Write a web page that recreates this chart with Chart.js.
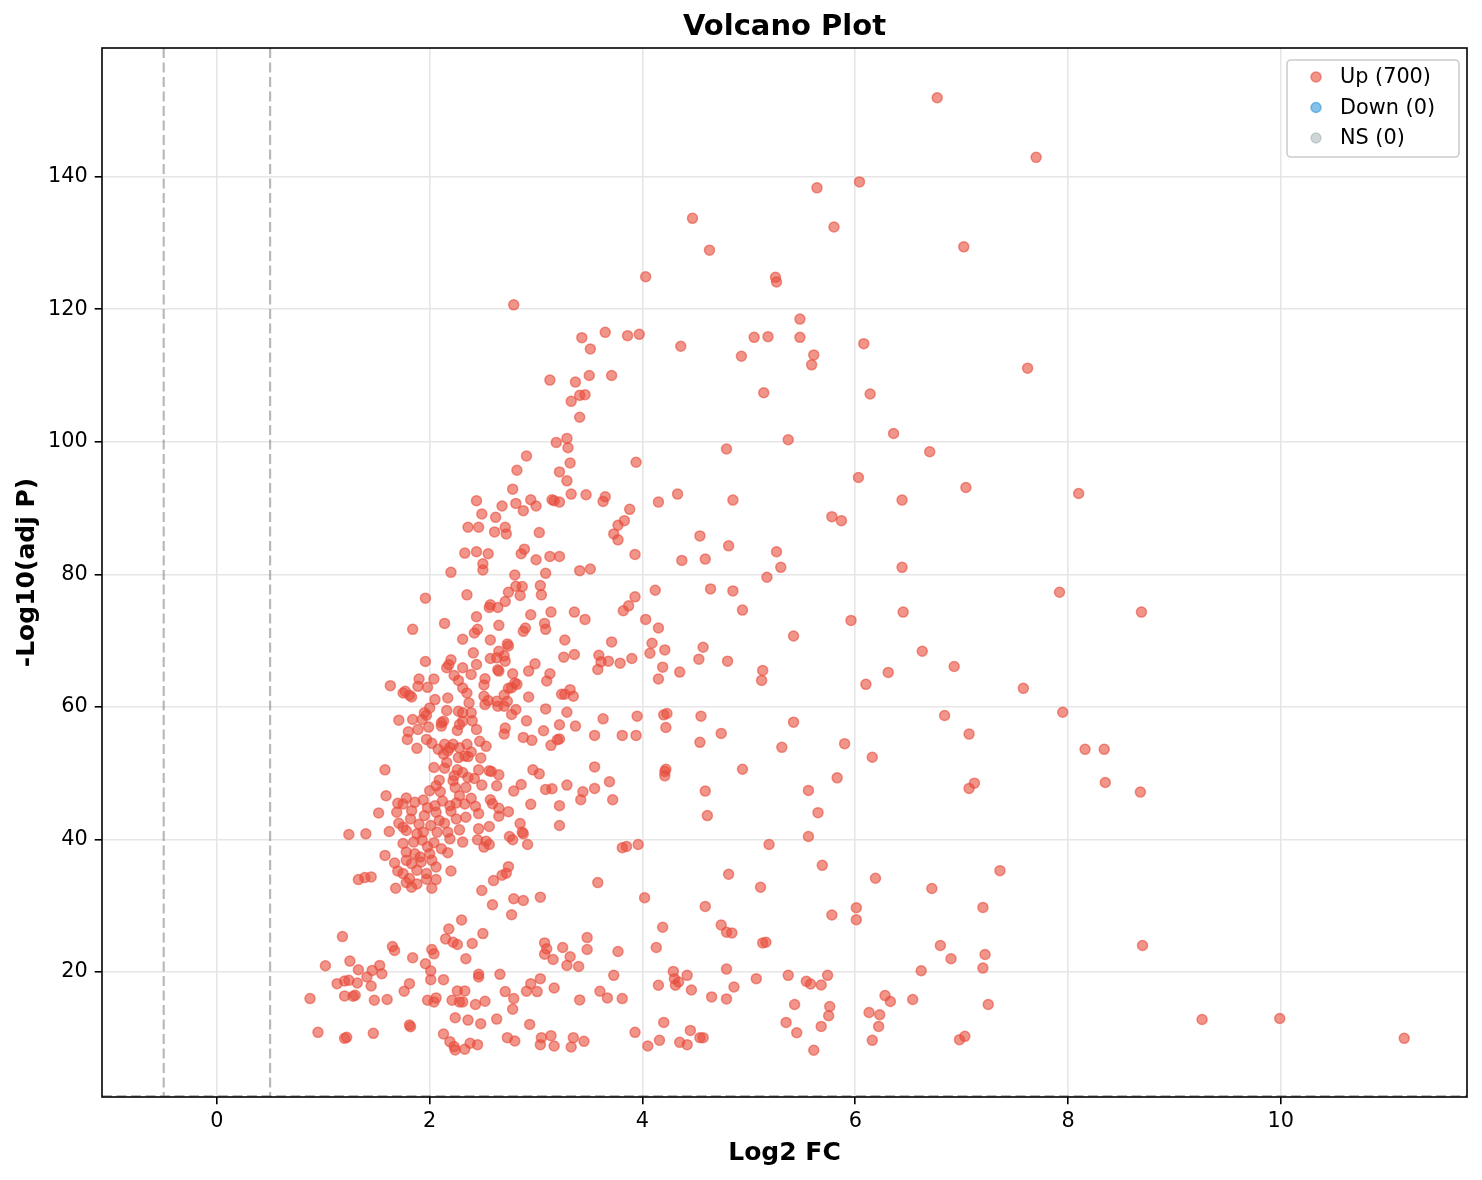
<!DOCTYPE html>
<html>
<head>
<meta charset="utf-8">
<title>Volcano Plot</title>
<script src="https://cdn.jsdelivr.net/npm/chart.js@4.4.1/dist/chart.umd.min.js"></script>
<style>
  html, body { margin: 0; padding: 0; background: #fff; }
  #wrap { width: 1482px; height: 1180px; }
</style>
</head>
<body>
<div id="wrap"><canvas id="volcano" width="1482" height="1180"></canvas></div>
<script>
// DATA (one line of x values matches one line of y values)
const upLog2FC = [
  2.36, 2.33, 2.20, 2.35, 1.96, 2.14, 1.84, 2.31,
  2.20, 1.96, 2.16, 2.31, 2.18, 2.23, 1.63, 1.75, 1.77, 1.81, 1.83, 1.90, 1.89, 1.98, 2.04, 2.27, 2.31, 2.35, 2.05, 2.17,
  2.00, 1.95, 1.97, 2.16, 2.27, 2.31, 1.71, 1.84, 1.93, 2.11, 2.13, 2.31, 2.28, 1.89, 1.99, 2.11, 2.26, 1.80, 1.79, 1.97,
  2.02, 1.88, 2.08, 2.14, 2.19, 2.22, 2.28, 2.35, 2.13, 2.17, 2.27, 2.33, 2.16, 2.04, 2.14, 1.58, 2.26, 2.31, 2.23, 2.09,
  2.22, 2.36, 2.06, 2.00, 2.24, 2.34, 1.59, 1.78, 1.70, 1.75, 1.86, 1.94, 2.05, 2.19, 2.28, 2.33, 1.52, 1.69, 1.83, 1.95,
  2.06, 2.09, 2.20, 2.25, 2.34, 1.71, 1.75, 2.01, 2.14, 1.88, 1.94, 2.07, 2.17, 2.28, 1.24, 1.40, 1.62, 1.78, 2.19, 2.31,
  1.75, 1.58, 1.78, 1.86, 1.91, 2.00, 2.11, 2.17, 1.67, 1.78, 1.83, 1.92, 2.02, 2.06, 2.20, 1.70, 1.75, 1.88, 1.97, 1.33,
  1.39, 1.45, 1.81, 2.06,
  1.85, 1.93, 1.98, 2.04, 1.90, 1.82, 2.12, 2.25, 2.10, 1.98, 2.40, 2.37,
  1.68, 1.83, 1.88, 1.97, 2.02, 1.78,
  2.30, 2.18, 2.15, 2.22, 2.26, 1.18, 1.65, 1.67, 2.02, 2.04, 2.34, 1.84, 1.25, 1.02, 1.33, 1.46, 1.53, 1.55, 1.41, 1.96,
  2.01, 2.01, 2.13, 1.13, 1.20, 1.24, 1.32, 1.45, 1.81, 1.76, 1.20, 1.28, 1.30, 0.875, 1.48, 1.60, 1.98, 2.04, 2.06, 2.21,
  2.28, 2.33, 2.26, 2.31, 2.24, 2.36, 1.81, 1.82, 0.95, 1.20, 1.22, 1.47, 2.13, 2.19, 2.23, 2.24, 2.33, 2.38,
  4.03, 2.79, 3.43, 3.65, 3.86, 3.97, 3.51, 4.36, 3.13, 3.37, 3.50, 3.71, 3.41, 3.46, 3.33, 3.41, 3.19, 3.29, 3.30, 2.91,
  3.32, 3.94, 2.82, 3.22, 3.29, 2.78, 2.44, 2.49, 2.68, 2.81, 2.95, 3.00, 2.88, 2.62, 3.15, 3.17, 3.22, 3.33, 3.47, 3.65,
  3.63, 4.15, 4.33, 3.88, 3.83, 3.77, 3.73, 3.77, 2.46, 2.61, 2.71, 2.72, 3.03, 4.54,
  2.44, 2.55, 2.86, 2.89, 3.00, 3.13, 3.22, 3.93, 4.37, 4.59, 2.50, 2.50, 3.41, 3.51, 2.80, 3.09, 2.74, 2.81, 2.87, 2.85,
  3.04, 3.05, 4.12, 2.71, 2.57, 2.56, 2.64, 3.93, 3.87, 3.82, 3.14, 3.36, 3.46, 2.95, 2.44, 4.03, 4.15, 3.08, 3.09, 2.65,
  2.90, 2.88, 2.45, 2.42, 2.57, 3.27, 3.71, 4.09, 2.73, 2.74, 2.65, 2.41, 4.21, 4.07, 4.57, 3.26, 3.36, 3.59, 2.57, 2.63,
  2.70, 2.71, 3.61, 3.68, 3.79, 3.90, 4.53, 2.44, 4.19, 2.99, 2.93, 2.64, 2.65, 3.58, 4.35, 4.15, 2.39, 2.78, 3.13, 3.10,
  2.52, 2.51, 2.80, 2.77, 2.74, 2.82, 3.32, 3.24, 3.27, 3.35, 2.51, 2.70, 2.93, 2.52, 2.55, 2.63, 2.64, 2.70, 2.73, 2.81,
  3.09, 2.39, 2.77, 3.29, 3.63, 3.95, 4.20, 4.23, 4.55, 2.91, 3.22, 3.37, 2.71, 2.70, 4.22, 2.44, 3.07, 3.55, 3.81, 3.94,
  2.88, 2.96, 3.20, 3.22, 3.14, 2.47, 2.53, 2.39, 2.36, 2.48, 4.54, 3.55, 4.21, 4.22, 2.46, 2.56, 2.58, 2.65, 2.97, 3.03,
  2.42, 3.69, 4.21, 2.49, 2.63, 2.86, 2.79, 3.09, 3.15, 3.29, 3.44, 3.55, 4.59, 3.72, 3.42, 2.57, 2.39,
  2.43, 2.59, 2.95, 3.22, 2.65, 2.74, 2.65, 2.46, 2.85, 3.22, 2.56, 2.46, 2.75, 2.78, 2.87, 2.88, 2.92, 2.45, 2.53, 2.56,
  2.51, 3.81, 3.85, 3.96, 2.74, 2.72, 2.68, 2.60, 3.58, 2.49, 2.79, 2.88, 3.04, 4.02, 2.59, 2.77, 4.59, 2.50, 2.40, 4.19,
  4.13, 3.08, 3.10, 3.08, 3.16, 3.25, 3.32, 3.29, 3.40, 3.48, 3.48, 3.77, 2.46, 2.46, 2.66, 3.04, 2.95, 2.91, 3.01, 3.17,
  2.71, 2.79, 2.78, 2.43, 2.52, 3.73, 3.60, 3.67, 3.81, 3.41, 4.29, 4.30, 4.34, 4.31, 4.42, 4.15, 4.46, 2.48, 2.63, 2.94,
  4.20, 3.93, 4.45, 2.45, 2.73, 2.80, 3.05, 3.14, 3.04, 3.17, 3.35, 3.33, 3.45, 4.05, 4.16, 4.35, 4.42, 4.54, 4.57,
  4.85, 6.44, 5.78, 5.87, 4.81, 5.26, 5.30, 6.44, 5.17, 4.64, 4.85, 4.94, 6.45, 5.96, 5.42, 6.63, 4.80, 5.13, 5.12, 6.31,
  6.93, 6.10, 6.84, 5.42, 4.74, 5.31, 5.90, 6.16, 4.94, 5.83,
  5.56, 4.61, 5.65, 5.56, 5.19, 5.69, 4.81, 6.19, 6.72, 5.11, 6.01, 6.01, 5.78, 4.74, 4.79, 4.84, 5.13, 5.16, 6.80, 6.90,
  4.79, 5.07, 5.37, 5.54, 5.58, 5.68, 5.74, 6.62, 4.86, 4.65, 4.79, 5.43, 5.76, 5.75, 6.28, 6.33, 6.54, 6.13, 6.23, 6.22,
  5.35, 5.45, 5.68, 6.16, 5.61, 6.98,
  6.77, 6.04, 5.64, 5.80, 4.63, 5.25, 5.26, 5.48, 5.05, 5.18, 5.48, 6.08, 4.93, 5.61, 5.59, 5.14, 6.14, 6.36, 5.37, 4.79,
  6.70, 6.03, 4.47,
  7.92, 8.69, 7.58, 7.95, 7.07, 8.16, 8.34, 7.12, 7.07, 8.35, 8.68, 7.36, 7.20, 7.22, 7.20, 8.70, 7.25, 7.03, 9.26, 9.99,
  11.16, 7.70, 7.02, 7.62, 8.10, 7.04
];
const upNegLog10P = [
  87.1, 83.2, 80.3, 76.9, 76.4, 72.6, 71.7, 70.2,
  67.1, 66.85, 65.9, 65.9, 66.35, 64.75, 63.2, 62.1, 62.35, 61.75, 61.5, 64.2, 63.1, 62.95, 64.2, 64.0, 62.85, 62.1, 61.1, 61.35,
  59.85, 59.1, 58.75, 59.45, 59.35, 59.1, 58.0, 58.1, 58.1, 57.6, 57.85, 57.85, 57.35, 56.6, 56.95, 57.1, 56.45, 56.25, 55.1, 55.1,
  54.5, 53.75, 53.6, 54.35, 53.85, 54.35, 53.85, 54.35, 52.85, 53.35, 52.35, 52.6, 51.6, 50.85, 50.75, 50.5, 50.5, 50.1, 49.6, 48.95,
  48.85, 49.35, 48.1, 47.35, 47.85, 47.85, 46.6, 46.25, 45.45, 45.35, 45.6, 45.95, 45.1, 45.1, 46.6, 45.35, 44.0, 44.1, 44.35, 43.6,
  44.1, 42.85, 44.25, 43.1, 43.35, 42.45, 41.85, 42.1, 42.45, 40.85, 41.1, 41.1, 41.1, 41.45, 40.75, 40.85, 41.2, 41.35, 40.1, 39.6,
  39.4, 37.6, 38.1, 37.85, 37.35, 37.85, 38.6, 38.0, 36.45, 36.85, 36.35, 36.6, 36.85, 35.85, 35.25, 35.25, 34.85, 35.35, 34.85, 33.95,
  34.25, 34.35, 34.1, 33.95,
  39.6, 39.9, 38.9, 39.5, 42.3, 43.1, 45.8, 45.5, 47.2, 44.8, 57.9, 60.6,
  32.65, 32.8, 33.3, 34.0, 32.65, 33.5,
  27.85, 26.5, 25.0, 24.5, 24.15, 25.35, 23.85, 23.25, 23.4, 22.75, 22.0, 22.15, 21.65, 20.95, 20.35, 20.25, 21.0, 19.75, 19.25, 21.25,
  20.15, 18.85, 18.85, 18.25, 18.65, 18.75, 18.35, 17.9, 18.25, 17.1, 16.4, 16.35, 16.5, 16.0, 15.75, 15.85, 15.75, 15.5, 16.1, 15.75,
  15.5, 17.15, 17.15, 15.5, 13.1, 12.75, 12.0, 11.75, 10.9, 10.0, 10.15, 10.75, 10.65, 9.5, 8.75, 8.25, 8.35, 9.25,
  124.9, 120.65, 115.7, 116.5, 116.0, 116.2, 114.0, 114.4, 109.3, 109.0, 110.0, 110.0, 107.0, 107.1, 106.1, 103.7, 99.9, 100.5, 99.1, 97.85,
  96.8, 96.9, 95.7, 95.45, 94.1, 92.85, 91.1, 89.1, 90.3, 90.7, 91.25, 90.3, 89.6, 88.6, 91.25, 91.1, 90.9, 92.1, 92.0, 91.7,
  91.0, 90.9, 92.1, 89.8, 88.1, 87.4, 86.1, 85.2, 87.1, 86.4, 87.1, 86.1, 86.3, 85.8,
  83.4, 83.1, 83.1, 83.8, 82.2, 82.7, 82.7, 83.0, 82.1, 82.3, 81.6, 80.65, 80.55, 80.8, 79.9, 80.15, 77.3, 78.2, 78.15, 76.8,
  78.3, 76.9, 77.6, 75.9, 75.4, 75.0, 75.0, 76.6, 75.25, 74.5, 74.3, 74.3, 73.2, 73.9, 73.6, 73.2, 71.9, 72.6, 71.7, 72.3,
  71.9, 71.4, 71.7, 71.15, 70.1, 70.1, 69.8, 69.6, 69.5, 69.2, 68.4, 68.15, 68.6, 68.1, 69.0, 67.5, 67.9, 67.8, 67.3, 67.4,
  67.7, 66.9, 66.8, 66.9, 66.6, 67.3, 67.2, 66.4, 66.0, 66.5, 65.4, 65.6, 65.4, 65.65, 65.25, 64.2, 64.9, 65.0, 65.0, 63.9,
  64.25, 63.3, 63.6, 62.9, 62.8, 63.4, 62.6, 61.9, 61.9, 61.6, 61.6, 61.8, 61.5, 60.35, 60.95, 60.85, 60.1, 60.1, 60.85, 59.6,
  59.7, 59.1, 58.85, 59.2, 58.2, 58.6, 58.8, 59.0, 58.6, 57.9, 57.3, 57.1, 56.8, 55.9, 56.9, 56.6, 56.4, 55.7, 55.7, 55.7,
  55.4, 54.95, 55.05, 55.15, 54.2, 54.8, 54.05, 53.2, 52.5, 52.3, 54.65, 50.95, 50.25, 50.6, 50.5, 50.35, 50.25, 49.75, 50.5, 49.9,
  49.2, 48.7, 49.6, 48.2, 48.1, 48.3, 47.3, 47.55, 47.65, 48.2, 47.2, 47.7, 47.3, 46.0, 46.0, 46.0, 46.2,
  45.0, 45.4, 45.3, 45.1, 44.7, 44.2, 43.5, 43.9, 42.4, 42.1, 41.95, 41.6, 40.45, 39.95, 41.1, 40.85, 39.25, 39.95, 39.75, 39.25,
  38.85, 38.75, 38.95, 39.25, 35.9, 34.9, 34.6, 33.8, 33.5, 32.3, 31.05, 30.8, 31.3, 31.2, 30.15, 28.65, 29.9, 25.8, 24.3, 26.75,
  23.7, 24.4, 23.5, 22.7, 21.9, 23.7, 22.3, 21.0, 20.85, 25.2, 23.4, 23.1, 19.65, 19.25, 19.65, 19.0, 18.25, 17.1, 17.05, 17.6,
  17.05, 16.0, 14.4, 15.1, 15.6, 19.5, 17.1, 16.1, 16.0, 15.8, 20.1, 19.0, 18.5, 18.0, 19.5, 18.0, 17.3, 12.2, 12.9, 12.1,
  12.4, 10.9, 11.2, 9.05, 10.1, 9.6, 10.1, 10.4, 9.05, 8.85, 10.1, 8.7, 9.55, 8.85, 9.7, 9.4, 9.05, 10.1, 10.1,
  91.2, 91.2, 88.7, 88.1, 84.3, 83.4, 81.05, 81.05, 79.55, 77.8, 77.5, 74.6, 74.3, 73.05, 70.7, 68.4, 66.9, 65.5, 64.0, 65.2,
  66.1, 63.4, 58.7, 57.7, 56.0, 53.9, 54.45, 52.4, 50.6, 49.3,
  47.4, 43.6, 44.05, 40.45, 39.25, 36.1, 34.75, 34.15, 32.6, 32.8, 29.7, 27.9, 28.6, 27.1, 26.0, 25.9, 24.4, 24.5, 24.0, 22.0,
  20.45, 19.0, 19.5, 18.6, 18.2, 18.05, 19.5, 20.2, 17.75, 16.25, 15.95, 15.1, 14.8, 13.4, 16.45, 15.55, 15.85, 13.9, 13.55, 11.8,
  12.4, 10.85, 11.8, 9.7, 8.2, 9.8,
  151.9, 139.2, 138.3, 132.4, 128.9, 124.8, 124.1, 118.5, 115.75, 115.85, 115.75, 114.8, 112.9, 113.1, 111.6, 107.4, 107.2, 101.25, 100.3, 98.9,
  98.5, 94.6, 133.7,
  77.3, 74.3, 62.8, 59.2, 55.9, 53.6, 53.6, 48.5, 47.7, 48.6, 47.15, 35.3, 29.75, 22.65, 20.6, 24.0, 15.1, 10.3, 12.85, 13.0,
  10.0, 142.9, 129.4, 111.1, 92.2, 93.1
];
const downLog2FC = [];
const downNegLog10P = [];
const nsLog2FC = [];
const nsNegLog10P = [];

const legendLabels = ['Up (700)', 'Down (0)', 'NS (0)'];
const fcCutoffs = [-0.5, 0.5];
const pCutoff = 0.05;

// axis ranges as shown in the picture
const xMin = -1.08, xMax = 11.75;
const yMin = 1.15, yMax = 159.4;

Chart.defaults.font.family = '"DejaVu Sans", "Liberation Sans", sans-serif';

const upColor = 'rgba(231, 76, 60, 0.6)';
const downColor = 'rgba(52, 152, 219, 0.6)';
const nsColor = 'rgba(149, 165, 166, 0.45)';
const markerRadius = 5;
const markerEdge = 1.5;

function toPoints(xs, ys) {
  return xs.map((x, i) => ({ x: x, y: ys[i] }));
}

function makeSet(label, xs, ys, color) {
  return {
    label: label,
    data: toPoints(xs, ys),
    backgroundColor: color,
    borderColor: color,
    pointRadius: markerRadius,
    pointHoverRadius: markerRadius,
    borderWidth: markerEdge
  };
}

// dashed cutoffs, frame and the legend box inside the plot
const overlay = {
  id: 'overlay',
  beforeDatasetsDraw(chart) {
    const { ctx, chartArea: a, scales: { x, y } } = chart;
    ctx.save();
    ctx.strokeStyle = 'rgba(128, 128, 128, 0.55)';
    ctx.lineWidth = 2.2;
    ctx.setLineDash([10, 4.5]);
    fcCutoffs.forEach(v => {
      const px = x.getPixelForValue(v);
      ctx.beginPath();
      ctx.moveTo(px, a.top);
      ctx.lineTo(px, a.bottom);
      ctx.stroke();
    });
    const py = y.getPixelForValue(-Math.log10(pCutoff));
    ctx.beginPath();
    ctx.moveTo(a.left, py);
    ctx.lineTo(a.right, py);
    ctx.stroke();
    ctx.restore();
  },
  afterDatasetsDraw(chart) {
    const { ctx, chartArea: a } = chart;
    ctx.save();
    ctx.strokeStyle = '#000';
    ctx.lineWidth = 1.6;
    ctx.strokeRect(a.left, a.top, a.right - a.left, a.bottom - a.top);

    // LEGEND
    const w = 172, h = 97;
    const x0 = a.right - 180, y0 = a.top + 12;
    ctx.beginPath();
    ctx.roundRect(x0, y0, w, h, 4);
    ctx.fillStyle = 'rgba(255, 255, 255, 0.8)';
    ctx.fill();
    ctx.strokeStyle = '#cccccc';
    ctx.lineWidth = 1.6;
    ctx.stroke();
    ctx.font = '20.8px "DejaVu Sans"';
    ctx.textBaseline = 'middle';
    chart.data.datasets.forEach((ds, i) => {
      const cy = y0 + 17 + i * 30.5;
      ctx.beginPath();
      ctx.arc(x0 + 29, cy, markerRadius, 0, Math.PI * 2);
      ctx.fillStyle = ds.backgroundColor;
      ctx.fill();
      ctx.strokeStyle = ds.borderColor;
      ctx.lineWidth = markerEdge;
      ctx.stroke();
      ctx.fillStyle = '#000';
      ctx.fillText(ds.label, x0 + 53, cy + 1);
    });
    ctx.restore();
  }
};

new Chart(document.getElementById('volcano'), {
  type: 'scatter',
  data: {
    datasets: [
      makeSet(legendLabels[0], upLog2FC, upNegLog10P, upColor),
      makeSet(legendLabels[1], downLog2FC, downNegLog10P, downColor),
      makeSet(legendLabels[2], nsLog2FC, nsNegLog10P, nsColor)
    ]
  },
  options: {
    responsive: false,
    maintainAspectRatio: false,
    animation: false,
    devicePixelRatio: 1,
    layout: { padding: { top: 0, right: 15, bottom: 0, left: 0 } },
    plugins: {
      legend: { display: false },
      tooltip: { enabled: false },
      title: {
        display: true,
        text: 'Volcano Plot',
        fullSize: false,
        color: '#000',
        font: { size: 29, weight: 'bold', lineHeight: 1.2 },
        padding: { top: 10, bottom: 3.2 }
      }
    },
    scales: {
      x: {
        type: 'linear',
        min: xMin,
        max: xMax,
        afterFit: s => { s.height = 83; },
        ticks: { stepSize: 2, includeBounds: false, color: '#000', font: { size: 20.8 }, padding: 5 },
        grid: { color: '#e6e6e6', lineWidth: 1.6, tickColor: '#000', tickLength: 7.3, tickWidth: 1.6 },
        border: { display: false },
        title: {
          display: true,
          text: 'Log2 FC',
          color: '#000',
          font: { size: 25, weight: 'bold', lineHeight: 1.2 },
          padding: { top: 0, bottom: 12 }
        }
      },
      y: {
        type: 'linear',
        min: yMin,
        max: yMax,
        afterFit: s => { s.width = 102; },
        ticks: { stepSize: 20, includeBounds: false, color: '#000', font: { size: 20.8 }, padding: 7 },
        grid: { color: '#e6e6e6', lineWidth: 1.6, tickColor: '#000', tickLength: 7.3, tickWidth: 1.6 },
        border: { display: false },
        title: {
          display: true,
          text: '-Log10(adj P)',
          color: '#000',
          font: { size: 25, weight: 'bold', lineHeight: 1.2 },
          padding: { top: 12, bottom: 0 }
        }
      }
    }
  },
  plugins: [overlay]
});
</script>
</body>
</html>
